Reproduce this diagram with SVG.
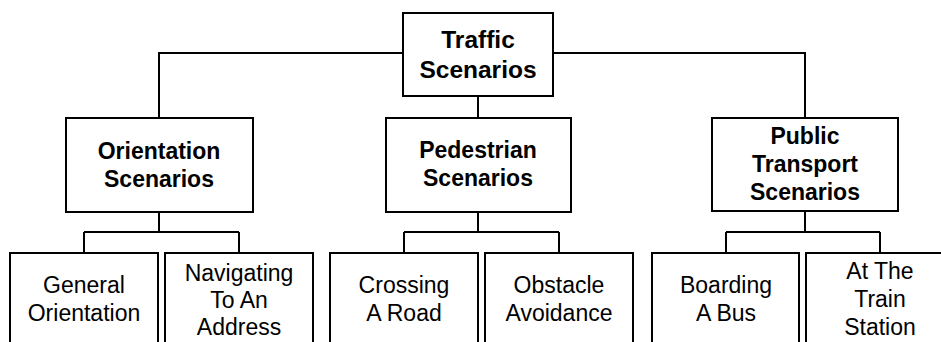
<svg xmlns="http://www.w3.org/2000/svg" width="941" height="342" viewBox="0 0 941 342">
<style>
.box{fill:#fff;stroke:#000;stroke-width:2}
.ln{fill:none;stroke:#000;stroke-width:2}
.b{font-family:"Liberation Sans",Arial,sans-serif;font-weight:bold;font-size:23px;text-anchor:middle;fill:#000}
.t{font-size:24.5px}
.r{font-family:"Liberation Sans",Arial,sans-serif;font-size:23px;text-anchor:middle;fill:#000}
</style>
<rect width="941" height="342" fill="#fff"/>
<g id="connectors">
<path class="ln" d="M403,53 H159 V118 M553,53 H805 V118 M478,96 V118"/>
<path class="ln" d="M159,212 V232 M84,232 H239 M84,232 V253 M239,232 V253"/>
<path class="ln" d="M478,212 V232 M404,232 H559 M404,232 V253 M559,232 V253"/>
<path class="ln" d="M805,211 V232 M726,232 H880 M726,232 V253 M880,232 V253"/>
</g>
<g id="traffic"><rect class="box" x="403" y="13" width="150" height="83"/><text class="b t" x="478" y="48">Traffic</text><text class="b t" x="478" y="78">Scenarios</text></g>
<g id="orientation"><rect class="box" x="66" y="118" width="187" height="94"/><text class="b" x="159" y="159">Orientation</text><text class="b" x="159" y="187">Scenarios</text></g>
<g id="pedestrian"><rect class="box" x="386" y="118" width="185" height="94"/><text class="b" x="478" y="158">Pedestrian</text><text class="b" x="478" y="186">Scenarios</text></g>
<g id="public"><rect class="box" x="712" y="118" width="186" height="93"/><text class="b" x="805" y="144">Public</text><text class="b" x="805" y="172">Transport</text><text class="b" x="805" y="200">Scenarios</text></g>
<g id="general"><rect class="box" x="10" y="253" width="148" height="94"/><text class="r" x="84" y="293">General</text><text class="r" x="84" y="321">Orientation</text></g>
<g id="navigating"><rect class="box" x="165" y="253" width="148" height="94"/><text class="r" x="239" y="281">Navigating</text><text class="r" x="239" y="308">To An</text><text class="r" x="239" y="335">Address</text></g>
<g id="crossing"><rect class="box" x="330" y="253" width="148" height="94"/><text class="r" x="404" y="293">Crossing</text><text class="r" x="404" y="321">A Road</text></g>
<g id="obstacle"><rect class="box" x="485" y="253" width="148" height="94"/><text class="r" x="559" y="293">Obstacle</text><text class="r" x="559" y="321">Avoidance</text></g>
<g id="boarding"><rect class="box" x="652" y="253" width="147" height="94"/><text class="r" x="726" y="293">Boarding</text><text class="r" x="726" y="321">A Bus</text></g>
<g id="train"><rect class="box" x="806" y="253" width="148" height="94"/><text class="r" x="880" y="279">At The</text><text class="r" x="880" y="307">Train</text><text class="r" x="880" y="335">Station</text></g>
</svg>
